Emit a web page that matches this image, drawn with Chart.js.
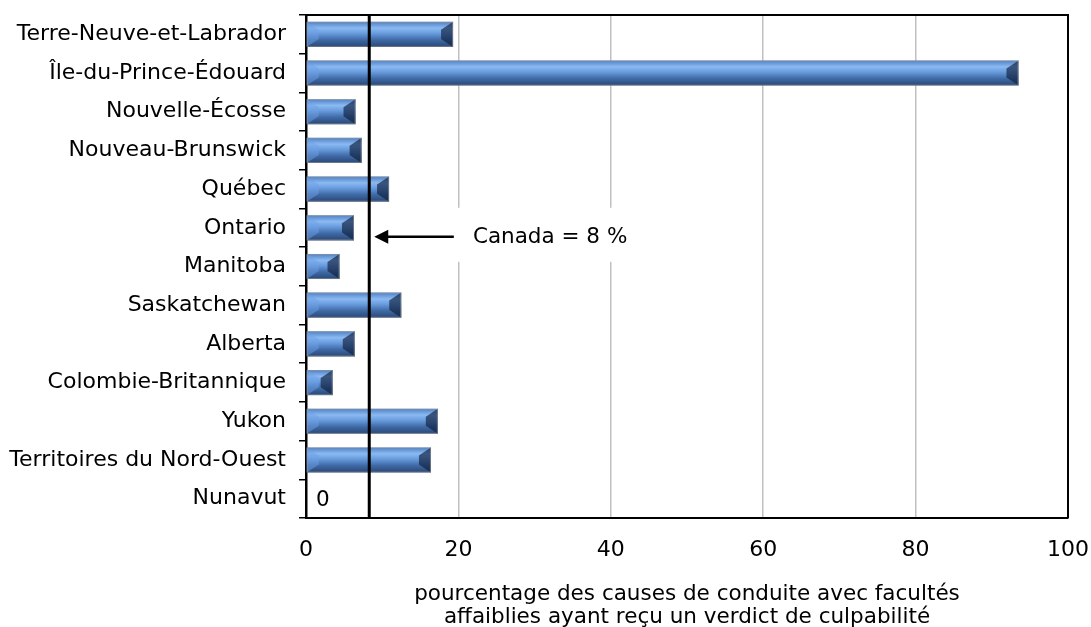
<!DOCTYPE html>
<html>
<head>
<meta charset="utf-8">
<script src="https://cdn.jsdelivr.net/npm/chart.js@4"></script>
<style>
  html, body { margin: 0; padding: 0; background: #fff; }
  #wrap { width: 1091px; height: 627px; }
</style>
</head>
<body>
<div id="wrap"><canvas id="chart"></canvas></div>
<script>
// catégories et valeurs
const provinces = ['Terre-Neuve-et-Labrador', 'Île-du-Prince-Édouard', 'Nouvelle-Écosse', 'Nouveau-Brunswick',
  'Québec', 'Ontario', 'Manitoba', 'Saskatchewan', 'Alberta', 'Colombie-Britannique', 'Yukon',
  'Territoires du Nord-Ouest', 'Nunavut'];
const pourcentages = [19.3, 93.5, 6.5, 7.3, 10.9, 6.3, 4.4, 12.5, 6.4, 3.5, 17.3, 16.4, 0];
const xTicks = [0, 20, 40, 60, 80, 100];
const canadaValeur = 8.3;
const canadaTexte = 'Canada = 8 %';
const titreX = ['pourcentage des causes de conduite avec facultés', 'affaiblies ayant reçu un verdict de culpabilité'];

const police = 'DejaVu Sans';

// dégradé vertical pour chaque barre
function barGradient(ctx) {
  const chart = ctx.chart;
  const ys = chart.scales && chart.scales.y;
  if (!ys || ctx.dataIndex === undefined) return '#4f81bd';
  const yc = ys.getPixelForValue(ctx.dataIndex);
  const h = 25;
  if (!isFinite(yc)) return '#4f81bd';
  const top = yc - h / 2;
  const g = chart.ctx.createLinearGradient(0, top, 0, top + h);
  g.addColorStop(0, '#4f80c4');
  g.addColorStop(0.25, '#8bbaf2');
  g.addColorStop(0.45, '#6a9ddf');
  g.addColorStop(0.72, '#3f6aa6');
  g.addColorStop(1, '#2a4775');
  return g;
}

// effet biseauté sur les extrémités des barres
const bevelPlugin = {
  id: 'bevel',
  afterDatasetsDraw(chart) {
    const ctx = chart.ctx;
    chart.getDatasetMeta(0).data.forEach(bar => {
      const x0 = Math.min(bar.base, bar.x), x1 = Math.max(bar.base, bar.x);
      const h = bar.height;
      const y0 = bar.y - h / 2, y1 = bar.y + h / 2;
      if (x1 - x0 < 2) return;
      const b = Math.min(12, (x1 - x0) / 2);
      ctx.save();
      // gauche
      ctx.fillStyle = 'rgba(110,160,230,0.5)';
      ctx.beginPath();
      ctx.moveTo(x0, y0); ctx.lineTo(x0 + b, y0 + 8); ctx.lineTo(x0 + b, y1 - 8); ctx.lineTo(x0, y1);
      ctx.closePath(); ctx.fill();
      // droite
      ctx.fillStyle = 'rgba(15,30,60,0.65)';
      ctx.beginPath();
      ctx.moveTo(x1, y0); ctx.lineTo(x1 - b, y0 + 8); ctx.lineTo(x1 - b, y1 - 8); ctx.lineTo(x1, y1);
      ctx.closePath(); ctx.fill();
      // contour
      ctx.strokeStyle = 'rgba(150,150,150,0.6)';
      ctx.lineWidth = 1;
      ctx.strokeRect(x0 + 0.5, y0 + 0.5, x1 - x0 - 1, h - 1);
      ctx.restore();
    });
  }
};

// ligne Canada, flèche, étiquette, cadre et étiquette zéro
const annotPlugin = {
  id: 'annot',
  afterDraw(chart) {
    const ctx = chart.ctx;
    const a = chart.chartArea;
    const xs = chart.scales.x, ys = chart.scales.y;
    ctx.save();
    // cadre haut et droite
    ctx.strokeStyle = '#000';
    ctx.lineWidth = 2;
    ctx.beginPath();
    ctx.moveTo(a.left, a.top); ctx.lineTo(a.right, a.top); ctx.lineTo(a.right, a.bottom);
    ctx.stroke();

    // boîte blanche derrière le texte
    const yOnt = ys.getPixelForValue(5) + 9;
    const bx0 = xs.getPixelForValue(19.4), bx1 = xs.getPixelForValue(45);
    ctx.fillStyle = '#fff';
    ctx.fillRect(bx0, yOnt - 29, bx1 - bx0, 54);

    // ligne verticale Canada
    const cx = xs.getPixelForValue(canadaValeur);
    ctx.strokeStyle = '#000';
    ctx.lineWidth = 3;
    ctx.beginPath();
    ctx.moveTo(cx, a.top); ctx.lineTo(cx, a.bottom);
    ctx.stroke();

    // flèche
    const ax0 = xs.getPixelForValue(19.4), tip = cx + 5;
    ctx.lineWidth = 2.5;
    ctx.beginPath();
    ctx.moveTo(ax0, yOnt); ctx.lineTo(tip + 12, yOnt);
    ctx.stroke();
    ctx.fillStyle = '#000';
    ctx.beginPath();
    ctx.moveTo(tip, yOnt); ctx.lineTo(tip + 14, yOnt - 7); ctx.lineTo(tip + 14, yOnt + 7);
    ctx.closePath(); ctx.fill();

    // texte
    ctx.font = '21.5px "' + police + '"';
    ctx.textBaseline = 'middle';
    ctx.textAlign = 'left';
    ctx.fillStyle = '#000';
    ctx.fillText(canadaTexte, xs.getPixelForValue(21.9), yOnt + 1);

    // étiquette 0 pour Nunavut
    const last = chart.getDatasetMeta(0).data[pourcentages.length - 1];
    ctx.fillText(String(pourcentages[pourcentages.length - 1]), last.base + 10, last.y + 2);
    ctx.restore();
  }
};

new Chart(document.getElementById('chart'), {
  type: 'bar',
  data: {
    labels: provinces,
    datasets: [{
      data: pourcentages,
      backgroundColor: barGradient,
      borderWidth: 0,
      barPercentage: 0.65,
      categoryPercentage: 1
    }]
  },
  options: {
    indexAxis: 'y',
    responsive: true,
    maintainAspectRatio: false,
    animation: false,
    layout: { padding: { top: 15, right: 23, left: 0, bottom: 0 } },
    scales: {
      x: {
        min: 0,
        max: 100,
        afterBuildTicks(scale) { scale.ticks = xTicks.map(v => ({ value: v })); },
        afterFit(scale) {
          scale.height = 109;
          scale.paddingLeft = 0;
          scale.paddingRight = 0;
        },
        grid: {
          color: ctx => (ctx.tick && (ctx.tick.value === 0 || ctx.tick.value === 100)) ? 'rgba(0,0,0,0)' : '#c0c0c0',
          lineWidth: 1.5,
          drawTicks: false
        },
        border: { color: '#000', width: 2 },
        ticks: { color: '#000', padding: 19, font: { family: police, size: 22 } },
        title: {
          display: true,
          text: titreX,
          color: '#000',
          padding: { top: 0, bottom: -2 },
          font: { family: police, size: 21.5, lineHeight: 1.07 }
        }
      },
      y: {
        afterFit(scale) {
          scale.width = 306;
          scale.paddingTop = 0;
          scale.paddingBottom = 0;
        },
        grid: {
          offset: true,
          drawOnChartArea: false,
          drawTicks: true,
          tickLength: 7,
          color: '#000',
          lineWidth: 1.5
        },
        border: { color: '#000', width: 2.5 },
        ticks: { color: '#000', padding: 13, font: { family: police, size: 22 } }
      }
    },
    plugins: {
      legend: { display: false },
      tooltip: { enabled: false }
    }
  },
  plugins: [bevelPlugin, annotPlugin]
});
</script>
</body>
</html>
